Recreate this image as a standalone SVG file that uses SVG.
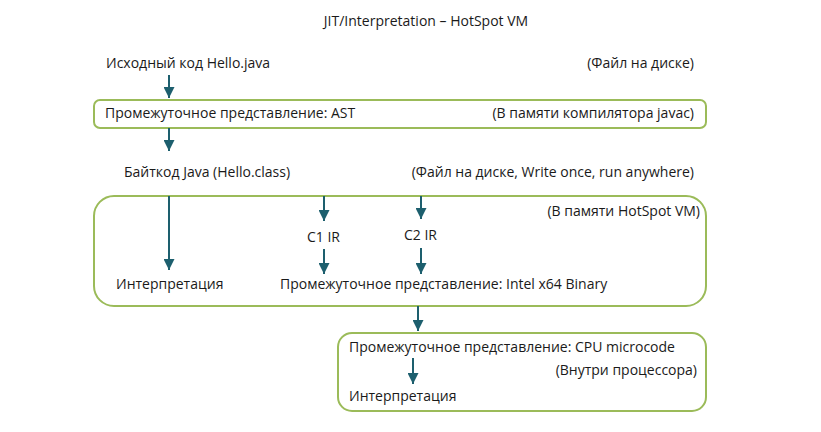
<svg xmlns="http://www.w3.org/2000/svg" width="821" height="432" viewBox="0 0 821 432">
<defs>
<style>
text{font-family:"Open Sans","Noto Sans",sans-serif;font-size:14px;fill:#1a1a1a}
.r{text-anchor:end}
.box{fill:none;stroke:#9bbb59;stroke-width:2}
.c line{stroke:#1d5f6e;stroke-width:2}
</style>
<marker id="ah" viewBox="0 0 10 10" refX="10" refY="5" markerWidth="5.5" markerHeight="5.5" orient="auto" markerUnits="strokeWidth"><path d="M0,0 L10,5 L0,10 z" fill="#1d5f6e"/></marker>
</defs>
<rect width="821" height="432" fill="#fff"/>
<text id="title" x="426" y="26" text-anchor="middle">JIT/Interpretation – HotSpot VM</text>
<g id="source"><text x="106" y="68">Исходный код Hello.java</text><text class="r" x="694" y="68">(Файл на диске)</text></g>
<g id="ast"><rect class="box" x="94" y="100" width="612" height="28" rx="6"/><text x="105" y="118">Промежуточное представление: AST</text><text class="r" x="694" y="118">(В памяти компилятора javac)</text></g>
<g id="bytecode"><text x="124" y="177">Байткод Java (Hello.class)</text><text class="r" x="694" y="177">(Файл на диске, Write once, run anywhere)</text></g>
<g id="hotspot"><rect class="box" x="94" y="196" width="612" height="110" rx="20"/><text class="r" x="700" y="216">(В памяти HotSpot VM)</text></g>
<g id="interp1"><text x="116" y="289">Интерпретация</text></g>
<g id="c1"><text x="307" y="242">C1 IR</text></g>
<g id="c2"><text x="404" y="240">C2 IR</text></g>
<g id="binary"><text x="280" y="289">Промежуточное представление: Intel x64 Binary</text></g>
<g id="cpu"><rect class="box" x="338" y="333" width="368" height="78" rx="14"/><text x="349" y="352">Промежуточное представление: CPU microcode</text><text class="r" x="697" y="375">(Внутри процессора)</text><text x="349" y="401">Интерпретация</text></g>
<g class="c" id="connectors">
<line x1="169" y1="75" x2="169" y2="98" marker-end="url(#ah)"/>
<line x1="169" y1="128" x2="169" y2="151" marker-end="url(#ah)"/>
<line x1="169" y1="196" x2="169" y2="270" marker-end="url(#ah)"/>
<line x1="324" y1="196" x2="324" y2="221" marker-end="url(#ah)"/>
<line x1="324" y1="249" x2="324" y2="274" marker-end="url(#ah)"/>
<line x1="421" y1="196" x2="421" y2="219" marker-end="url(#ah)"/>
<line x1="421" y1="248" x2="421" y2="274" marker-end="url(#ah)"/>
<line x1="418" y1="306" x2="418" y2="331" marker-end="url(#ah)"/>
<line x1="413" y1="358" x2="413" y2="384" marker-end="url(#ah)"/>
</g>
</svg>
